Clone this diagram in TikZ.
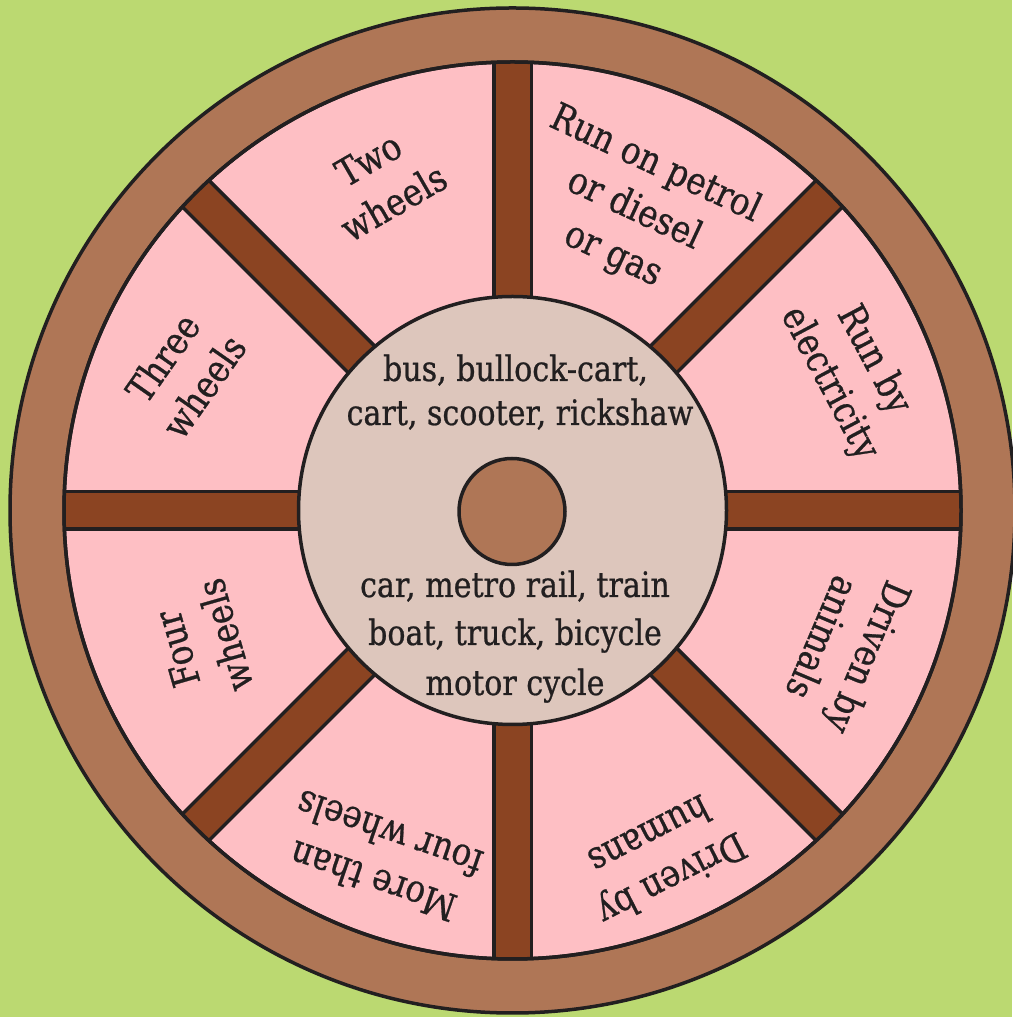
\documentclass[tikz,border=0pt]{standalone}
\usepackage{fontspec}
\setmainfont[FakeStretch=0.86,FakeBold=0.7]{DejaVu Serif}
\definecolor{bggreen}{RGB}{187,217,113}
\definecolor{rimbrown}{RGB}{175,118,86}
\definecolor{spokebrown}{RGB}{139,68,34}
\definecolor{sectpink}{RGB}{254,191,196}
\definecolor{hubgrey}{RGB}{221,198,188}
\definecolor{ink}{RGB}{34,31,32}
\begin{document}
\begin{tikzpicture}[x=1pt,y=1pt,
  outl/.style={draw=ink,line width=3.5pt},
  spokebar/.style={outl,fill=spokebrown},
  lab/.style={font=\fontsize{38}{50}\selectfont,align=center,text=ink,inner sep=0pt},
  hubtxt/.style={font=\fontsize{35}{48}\selectfont,text=ink,inner sep=0pt,anchor=base}]
\useasboundingbox (0,0) rectangle (1012,1017);
\fill[bggreen] (0,0) rectangle (1012,1017);
\begin{scope}[shift={(512.5,506.5)}]
  \coordinate (C) at (0,0);
  % rim
  \path[outl,fill=rimbrown] (C) circle[radius=502.5];
  \path[outl,fill=sectpink] (C) circle[radius=448.5];
  % spokes
  \begin{scope}
    \clip (C) circle[radius=448.5];
    \foreach \a in {0,45,...,315}{
      \path[spokebar,rotate=\a] (150,-18.75) rectangle (480,18.75);
    }
  \end{scope}
  \draw[outl] (C) circle[radius=448.5];
  % hub
  \path[outl,fill=hubgrey] (C) circle[radius=214];
  \path[outl,fill=rimbrown] (-0.5,-1) circle[radius=53];
\end{scope}
% hub texts
\node[hubtxt] (h1) at (515.5,636) {bus, bullock-cart,};
\node[hubtxt] (h2) at (520,592) {cart, scooter, rickshaw};
\node[hubtxt] (h3) at (515,420) {car, metro rail, train};
\node[hubtxt] (h4) at (515,372) {boat, truck, bicycle};
\node[hubtxt] (h5) at (515,322) {motor cycle};
% sector labels
\node[lab,rotate=30] (l1) at (381,836) {Two\\wheels};
\node[lab,rotate=-25] (l2) at (634,807) {Run on petrol\\or diesel\\or gas};
\node[lab,rotate=-62] (l3) at (851,645) {Run by\\electricity};
\node[lab,rotate=-113] (l4) at (846,369) {Driven by\\animals};
\node[lab,rotate=-153] (l5) at (661,159) {Driven by\\humans};
\node[lab,rotate=161] (l6) at (381,159) {More than\\four wheels};
\node[lab,rotate=106] (l7) at (201,375) {Four\\wheels};
\node[lab,rotate=55] (l8) at (183,645) {Three\\wheels};
\end{tikzpicture}
\end{document}
